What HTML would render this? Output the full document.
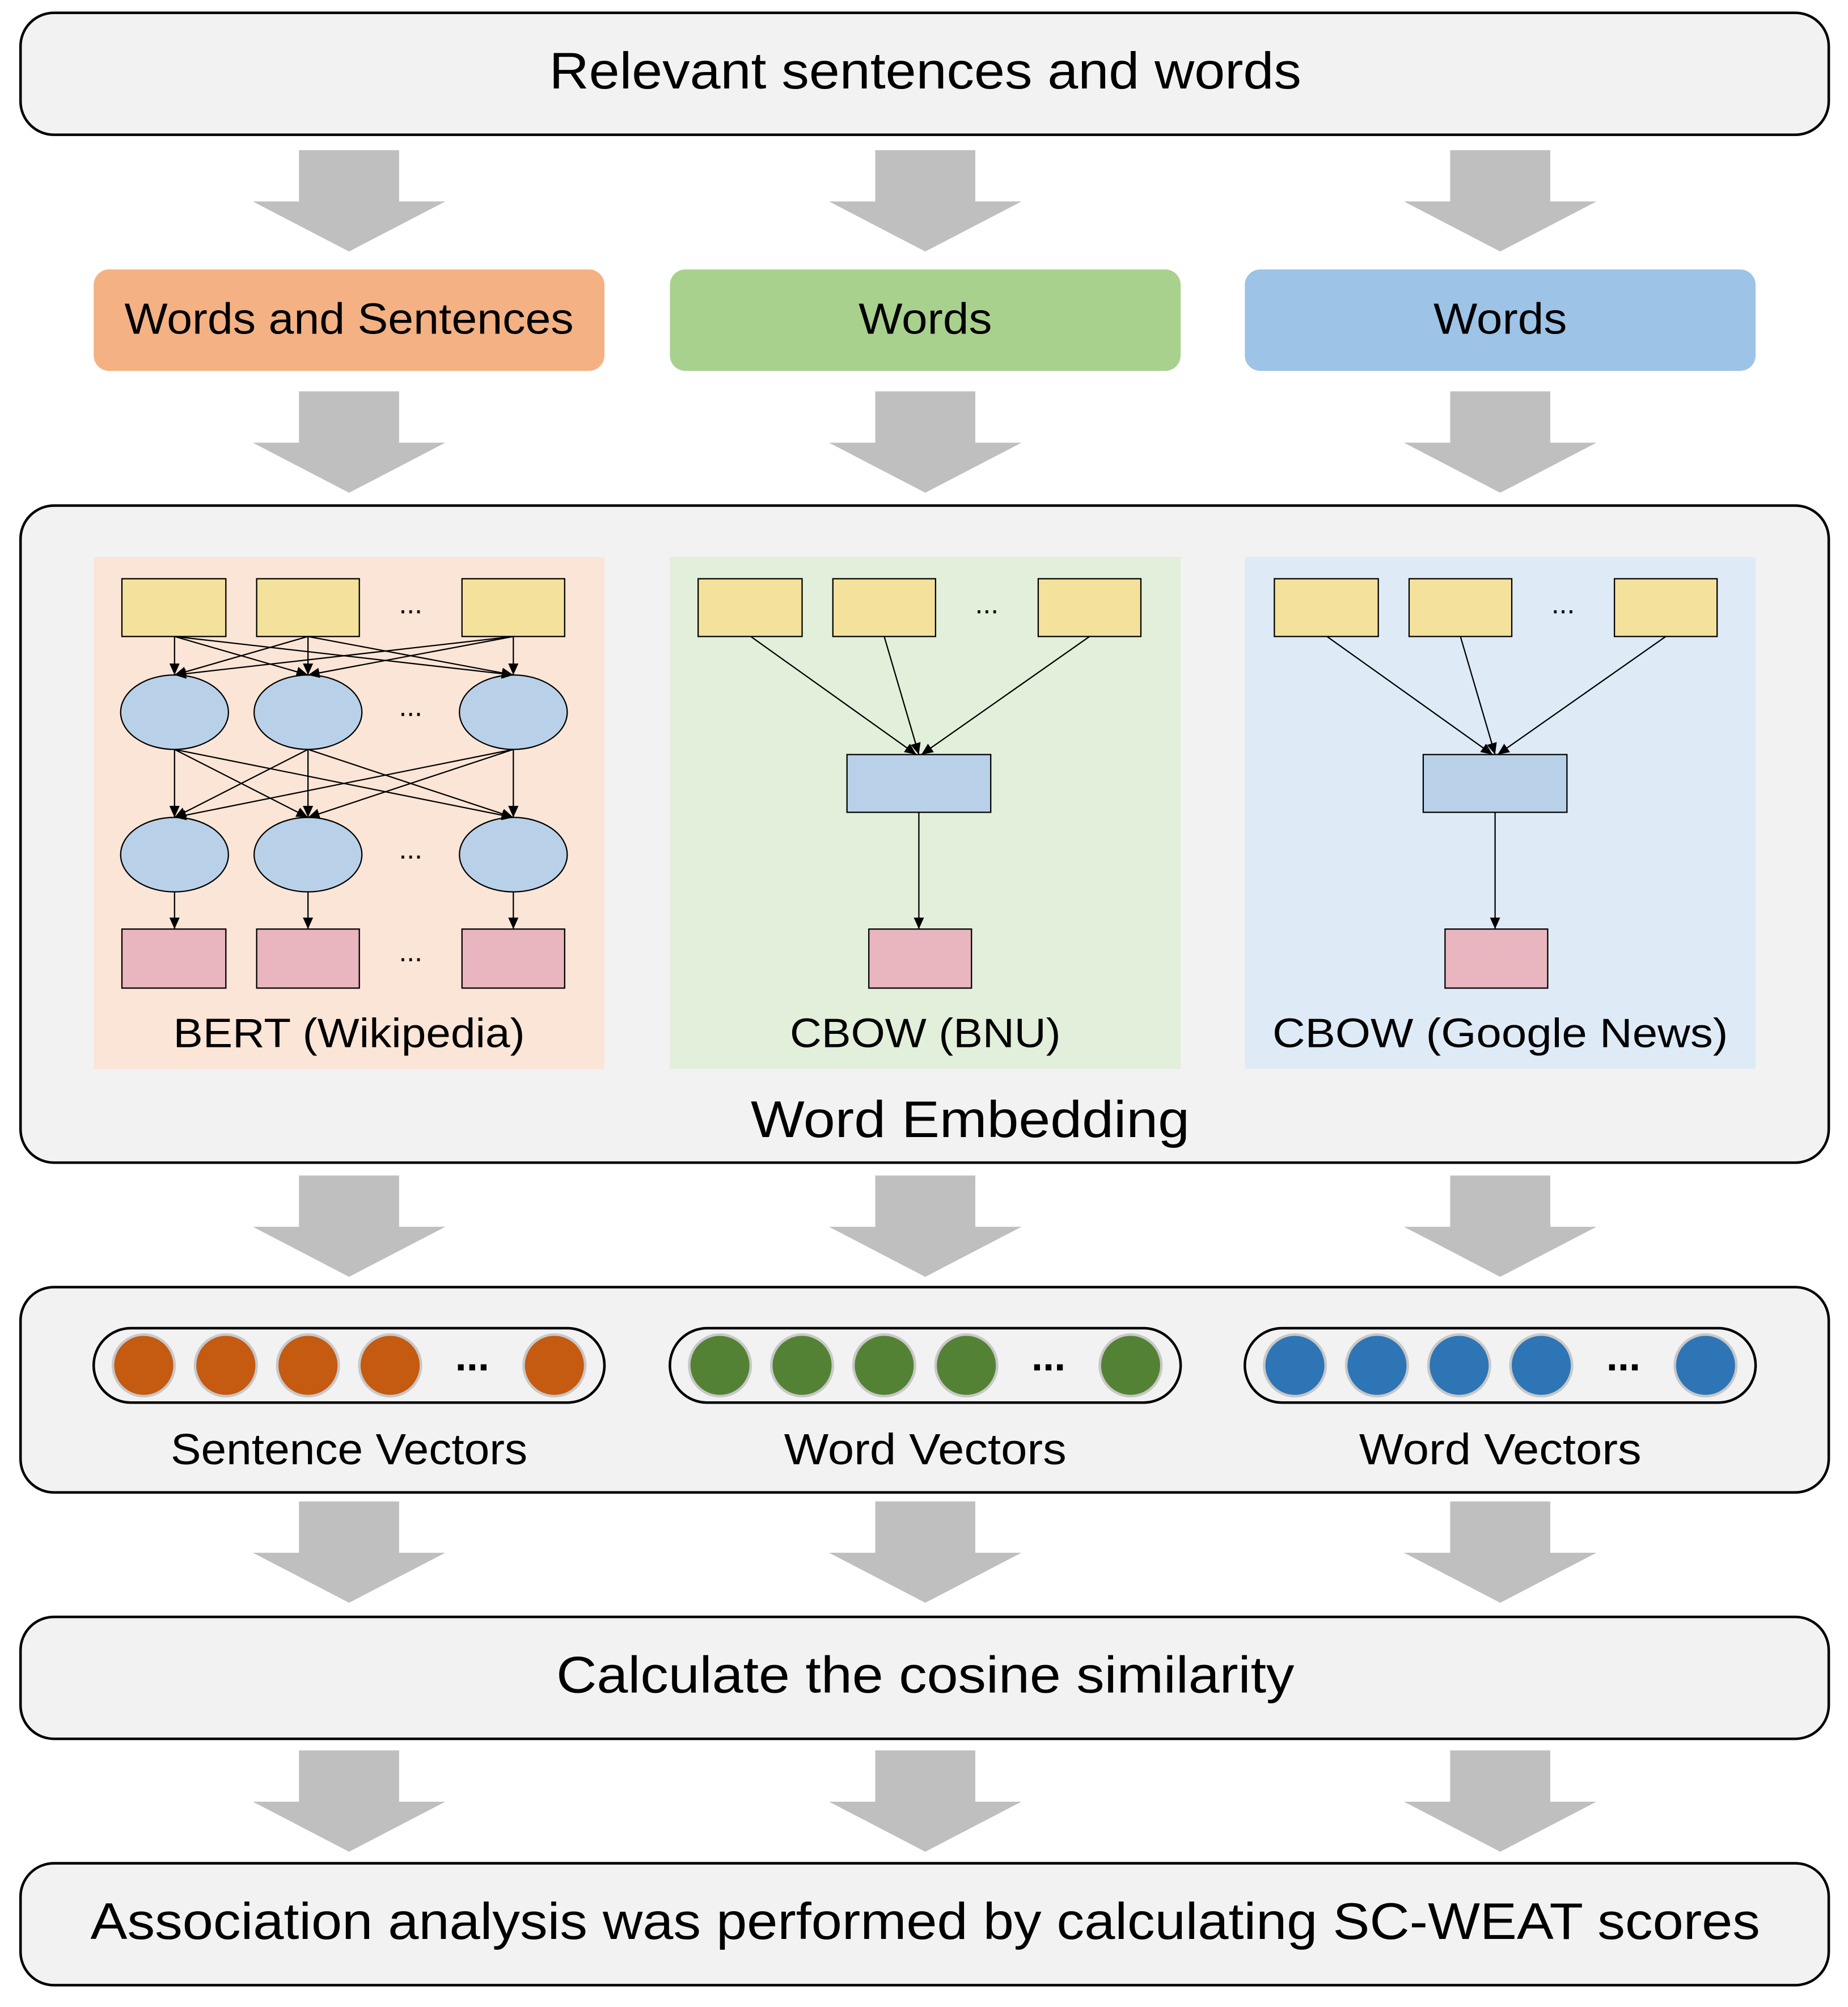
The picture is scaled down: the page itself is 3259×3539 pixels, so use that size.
<!DOCTYPE html>
<html><head><meta charset="utf-8"><style>html,body{margin:0;padding:0;background:#fff}svg{display:block}</style></head>
<body>
<svg xmlns="http://www.w3.org/2000/svg" width="3259" height="3539" viewBox="0 0 1440 1564" preserveAspectRatio="none" font-family="'Liberation Sans', sans-serif">
<defs>
<marker id="a" markerUnits="userSpaceOnUse" markerWidth="10" markerHeight="10" refX="9" refY="4" orient="auto"><path d="M0,0 L9,4 L0,8 z" fill="#000"/></marker>
<g id="arr"><path d="M-39,0 H39 V40 H75 L0,79 L-75,40 H-39 Z" fill="#bfbfbf"/></g>
</defs>
<rect width="1440" height="1564" fill="#fff"/>
<rect x="16" y="10" width="1409" height="95" rx="26" fill="#f2f2f2" stroke="#000" stroke-width="2"/>
<text x="721" y="69" font-size="40" text-anchor="middle" textLength="586" lengthAdjust="spacingAndGlyphs">Relevant sentences and words</text>
<g><use href="#arr" x="272" y="117"/><use href="#arr" x="721" y="117"/><use href="#arr" x="1169" y="117"/></g>
<rect x="73" y="210" width="398" height="79" rx="12" fill="#f4b183"/>
<rect x="522" y="210" width="398" height="79" rx="12" fill="#a9d18e"/>
<rect x="970" y="210" width="398" height="79" rx="12" fill="#9dc3e6"/>
<g font-size="34" text-anchor="middle" lengthAdjust="spacingAndGlyphs"><text x="272" y="260" textLength="350" lengthAdjust="spacingAndGlyphs">Words and Sentences</text><text x="721" y="260" textLength="104" lengthAdjust="spacingAndGlyphs">Words</text><text x="1169" y="260" textLength="104" lengthAdjust="spacingAndGlyphs">Words</text></g>
<g><use href="#arr" x="272" y="305"/><use href="#arr" x="721" y="305"/><use href="#arr" x="1169" y="305"/></g>
<rect x="16" y="394" width="1409" height="512" rx="26" fill="#f2f2f2" stroke="#000" stroke-width="2"/>
<rect x="73" y="434" width="398" height="399" fill="#fbe5d6"/>
<rect x="522" y="434" width="398" height="399" fill="#e2efda"/>
<rect x="970" y="434" width="398" height="399" fill="#deebf7"/>
<g stroke="#000" stroke-width="1">
<rect x="95" y="451" width="81" height="45" fill="#f4e19b"/><rect x="200" y="451" width="80" height="45" fill="#f4e19b"/><rect x="360" y="451" width="80" height="45" fill="#f4e19b"/>
<ellipse cx="136" cy="555" rx="42" ry="29" fill="#b9d1e8"/><ellipse cx="240" cy="555" rx="42" ry="29" fill="#b9d1e8"/><ellipse cx="400" cy="555" rx="42" ry="29" fill="#b9d1e8"/>
<ellipse cx="136" cy="666" rx="42" ry="29" fill="#b9d1e8"/><ellipse cx="240" cy="666" rx="42" ry="29" fill="#b9d1e8"/><ellipse cx="400" cy="666" rx="42" ry="29" fill="#b9d1e8"/>
<rect x="95" y="724" width="81" height="46" fill="#e9b5be"/><rect x="200" y="724" width="80" height="46" fill="#e9b5be"/><rect x="360" y="724" width="80" height="46" fill="#e9b5be"/>
<g marker-end="url(#a)" fill="none">
<line x1="136" y1="496" x2="136" y2="526"/><line x1="136" y1="496" x2="240" y2="526"/><line x1="136" y1="496" x2="400" y2="526"/>
<line x1="240" y1="496" x2="136" y2="526"/><line x1="240" y1="496" x2="240" y2="526"/><line x1="240" y1="496" x2="400" y2="526"/>
<line x1="400" y1="496" x2="136" y2="526"/><line x1="400" y1="496" x2="240" y2="526"/><line x1="400" y1="496" x2="400" y2="526"/>
<line x1="136" y1="584" x2="136" y2="637"/><line x1="136" y1="584" x2="240" y2="637"/><line x1="136" y1="584" x2="400" y2="637"/>
<line x1="240" y1="584" x2="136" y2="637"/><line x1="240" y1="584" x2="240" y2="637"/><line x1="240" y1="584" x2="400" y2="637"/>
<line x1="400" y1="584" x2="136" y2="637"/><line x1="400" y1="584" x2="240" y2="637"/><line x1="400" y1="584" x2="400" y2="637"/>
<line x1="136" y1="695" x2="136" y2="724"/><line x1="240" y1="695" x2="240" y2="724"/><line x1="400" y1="695" x2="400" y2="724"/>
</g></g>
<g font-size="22" text-anchor="middle"><text x="320" y="478">...</text><text x="320" y="558">...</text><text x="320" y="669">...</text><text x="320" y="749">...</text></g>
<g id="cb" stroke="#000" stroke-width="1">
<rect x="544" y="451" width="81" height="45" fill="#f4e19b"/><rect x="649" y="451" width="80" height="45" fill="#f4e19b"/><rect x="809" y="451" width="80" height="45" fill="#f4e19b"/>
<rect x="660" y="588" width="112" height="45" fill="#b9d1e8"/>
<rect x="677" y="724" width="80" height="46" fill="#e9b5be"/>
<g marker-end="url(#a)" fill="none">
<line x1="585" y1="496" x2="714" y2="588"/><line x1="689" y1="496" x2="716" y2="588"/><line x1="849" y1="496" x2="718" y2="588"/>
<line x1="716" y1="633" x2="716" y2="724"/>
</g>
<text x="769" y="478" font-size="22" text-anchor="middle" stroke="none">...</text>
</g>
<use href="#cb" x="449" y="0"/>
<g font-size="32" text-anchor="middle"><text x="272" y="816" textLength="274" lengthAdjust="spacingAndGlyphs">BERT (Wikipedia)</text><text x="721" y="816" textLength="211" lengthAdjust="spacingAndGlyphs">CBOW (BNU)</text><text x="1169" y="816" textLength="355" lengthAdjust="spacingAndGlyphs">CBOW (Google News)</text></g>
<text x="756" y="886" font-size="40" text-anchor="middle" textLength="342" lengthAdjust="spacingAndGlyphs">Word Embedding</text>
<g><use href="#arr" x="272" y="916"/><use href="#arr" x="721" y="916"/><use href="#arr" x="1169" y="916"/></g>
<rect x="16" y="1003" width="1409" height="160" rx="26" fill="#f2f2f2" stroke="#000" stroke-width="2"/>
<rect x="73" y="1035" width="398" height="58" rx="29" fill="#f2f2f2" stroke="#000" stroke-width="2"/>
<g stroke="#c8c8c8" stroke-width="2" fill="#c55a11"><circle cx="112" cy="1064" r="24"/><circle cx="176" cy="1064" r="24"/><circle cx="240" cy="1064" r="24"/><circle cx="304" cy="1064" r="24"/><circle cx="432" cy="1064" r="24"/></g>
<rect x="522" y="1035" width="398" height="58" rx="29" fill="#f2f2f2" stroke="#000" stroke-width="2"/>
<g stroke="#c8c8c8" stroke-width="2" fill="#548235"><circle cx="561" cy="1064" r="24"/><circle cx="625" cy="1064" r="24"/><circle cx="689" cy="1064" r="24"/><circle cx="753" cy="1064" r="24"/><circle cx="881" cy="1064" r="24"/></g>
<rect x="970" y="1035" width="398" height="58" rx="29" fill="#f2f2f2" stroke="#000" stroke-width="2"/>
<g stroke="#c8c8c8" stroke-width="2" fill="#2e75b6"><circle cx="1009" cy="1064" r="24"/><circle cx="1073" cy="1064" r="24"/><circle cx="1137" cy="1064" r="24"/><circle cx="1201" cy="1064" r="24"/><circle cx="1329" cy="1064" r="24"/></g>
<g font-size="32" font-weight="bold" text-anchor="middle"><text x="368" y="1068">...</text><text x="817" y="1068">...</text><text x="1265" y="1068">...</text></g>
<g font-size="34" text-anchor="middle"><text x="272" y="1141" textLength="278" lengthAdjust="spacingAndGlyphs">Sentence Vectors</text><text x="721" y="1141" textLength="220" lengthAdjust="spacingAndGlyphs">Word Vectors</text><text x="1169" y="1141" textLength="220" lengthAdjust="spacingAndGlyphs">Word Vectors</text></g>
<g><use href="#arr" x="272" y="1170"/><use href="#arr" x="721" y="1170"/><use href="#arr" x="1169" y="1170"/></g>
<rect x="16" y="1260" width="1409" height="95" rx="26" fill="#f2f2f2" stroke="#000" stroke-width="2"/>
<text x="721" y="1319" font-size="40" text-anchor="middle" textLength="575" lengthAdjust="spacingAndGlyphs">Calculate the cosine similarity</text>
<g><use href="#arr" x="272" y="1364"/><use href="#arr" x="721" y="1364"/><use href="#arr" x="1169" y="1364"/></g>
<rect x="16" y="1452" width="1409" height="95" rx="26" fill="#f2f2f2" stroke="#000" stroke-width="2"/>
<text x="721" y="1511" font-size="40" text-anchor="middle" textLength="1301" lengthAdjust="spacingAndGlyphs">Association analysis was performed by calculating SC-WEAT scores</text>
</svg>
</body></html>
